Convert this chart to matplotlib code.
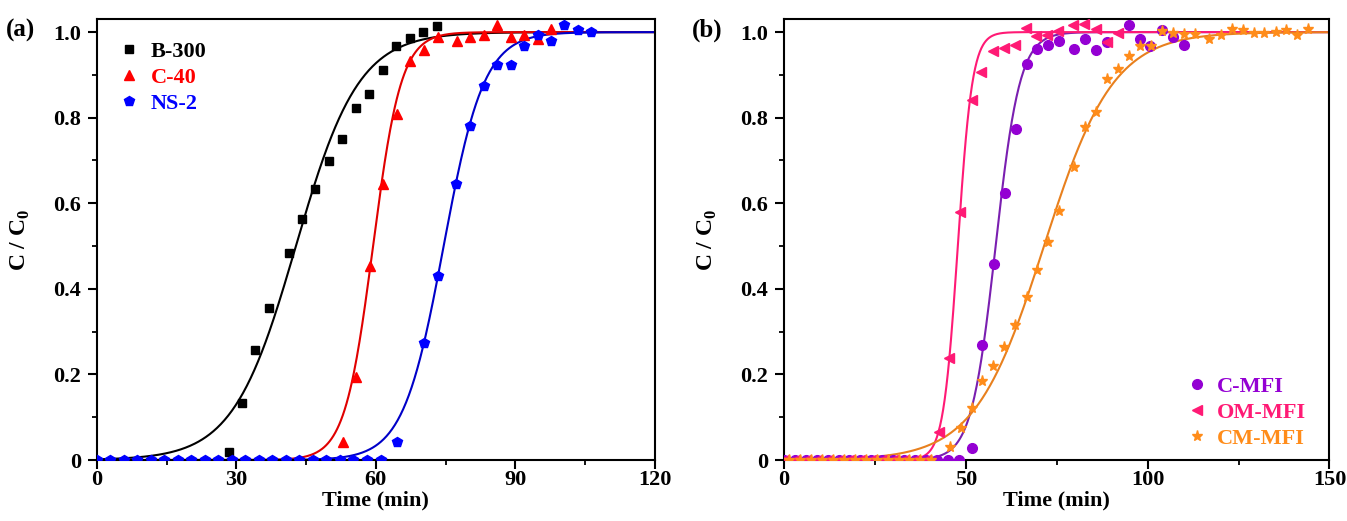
import numpy as np
import matplotlib
matplotlib.use('Agg')
from matplotlib import pyplot as plt
from matplotlib.ticker import MultipleLocator

plt.rcParams['font.family'] = ['Liberation Serif', 'DejaVu Serif']
plt.rcParams['font.weight'] = 'bold'
plt.rcParams['mathtext.fontset'] = 'custom'
plt.rcParams['mathtext.bf'] = 'Liberation Serif:bold'
plt.rcParams['mathtext.rm'] = 'Liberation Serif:bold'

# ---- panel (a) data ----
b300_t = [28.4, 31.2, 34.0, 37.0, 41.3, 44.1, 46.9, 49.9, 52.7, 55.7, 58.5,
          61.5, 64.3, 67.3, 70.1, 73.1]
b300_c = [0.019, 0.133, 0.257, 0.355, 0.484, 0.563, 0.633, 0.699, 0.750,
          0.822, 0.855, 0.911, 0.967, 0.986, 1.000, 1.014]
c40_t = [53.0, 55.7, 58.7, 61.6, 64.6, 67.4, 70.3, 73.3, 77.5, 80.3, 83.2,
         86.1, 89.0, 91.8, 94.9, 97.8]
c40_c = [0.041, 0.195, 0.453, 0.644, 0.808, 0.932, 0.958, 0.989, 0.980,
         0.989, 0.994, 1.016, 0.989, 0.994, 0.983, 1.007]
ns2_t = [0, 2.9, 5.8, 8.7, 11.6, 14.5, 17.4, 20.3, 23.2, 26.1, 29.0, 31.9,
         34.8, 37.7, 40.6, 43.5, 46.4, 49.3, 52.2, 55.1, 58.0, 61.2,
         64.6, 70.3, 73.3, 77.3, 80.2, 83.2, 86.1, 89.0, 91.8, 94.9, 97.8,
         100.6, 103.5, 106.4]
ns2_c = [0] * 22 + [0.042, 0.273, 0.431, 0.644, 0.780, 0.875, 0.923, 0.923,
                    0.967, 0.993, 0.979, 1.017, 1.006, 1.000]

# Yoon-Nelson fit parameters (tau, k)
fit_a = {'B-300': (42.8, 0.148), 'C-40': (59.4, 0.33), 'NS-2': (74.6, 0.23)}

# ---- panel (b) data ----
cmfi_t = [0, 3, 6, 9, 12, 15, 18, 21, 24, 27, 30, 33, 36, 39, 42, 45.1, 48.1,
          51.6, 54.5, 57.7, 60.7, 63.7, 66.7, 69.6, 72.6, 75.6, 79.7, 82.9,
          85.9, 88.9, 94.9, 97.8, 100.7, 103.9, 106.9, 109.9]
cmfi_c = [0] * 17 + [0.029, 0.269, 0.458, 0.625, 0.773, 0.925, 0.960, 0.971,
                     0.980, 0.961, 0.984, 0.958, 0.976, 1.017, 0.984, 0.967,
                     1.005, 0.989, 0.971]
ommfi_t = [0, 3, 6, 9, 12, 15, 18, 21, 24, 27, 30, 33, 36, 39, 42.7, 45.4,
           48.5, 51.6, 54.3, 57.5, 60.4, 63.4, 66.6, 69.4, 72.4, 75.4, 79.5,
           82.5, 85.7, 88.7, 91.9]
ommfi_c = [0] * 14 + [0.066, 0.238, 0.579, 0.841, 0.907, 0.957, 0.963, 0.971,
                      1.009, 0.991, 0.993, 1.003, 1.016, 1.018, 1.007, 0.976,
                      0.999]
cmmfi_t = [1.5, 4.5, 7.5, 10.5, 13.5, 16.5, 19.5, 22.5, 25.5, 28.5, 31.5,
           34.5, 37.5, 40.5, 45.6, 48.7, 51.6, 54.5, 57.5, 60.5, 63.6, 66.7,
           69.6, 72.6, 75.6, 79.7, 82.9, 85.9, 88.9, 91.9, 94.9, 97.8, 101.0,
           103.9, 106.9, 109.9, 113.1, 117.0, 120.2, 123.2, 126.1, 129.2,
           132.1, 135.2, 138.1, 141.1, 144.0]
cmmfi_c = [0] * 14 + [0.031, 0.074, 0.122, 0.185, 0.220, 0.265, 0.315, 0.380,
                      0.444, 0.509, 0.582, 0.685, 0.779, 0.814, 0.890, 0.914,
                      0.945, 0.968, 0.968, 1.003, 0.997, 0.995, 0.995, 0.985,
                      0.993, 1.007, 1.006, 0.998, 0.998, 1.000, 1.005, 0.993,
                      1.007]

fit_b = {'C-MFI': (58.2, 0.30), 'OM-MFI': (47.8, 0.50), 'CM-MFI': (71.5, 0.105)}


def yoon_nelson(t, tau, k):
    return 1.0 / (1.0 + np.exp(k * (tau - t)))


def style_axes(ax, xmax, xmajor):
    ax.set_xlim(0, xmax)
    ax.set_ylim(0, 1.03)
    ax.xaxis.set_major_locator(MultipleLocator(xmajor))
    ax.xaxis.set_minor_locator(MultipleLocator(xmajor / 2))
    ax.yaxis.set_minor_locator(MultipleLocator(0.1))
    ax.set_yticks([0, 0.2, 0.4, 0.6, 0.8, 1.0])
    ax.set_yticklabels(['0', '0.2', '0.4', '0.6', '0.8', '1.0'])
    ax.tick_params(which='major', direction='out', length=6.5, width=1.5,
                   labelsize=16, top=False, right=False)
    ax.tick_params(axis='y', which='major', pad=5)
    ax.tick_params(axis='x', which='major', pad=1)
    ax.tick_params(which='minor', direction='out', length=3.5, width=1.3,
                   top=False, right=False)
    for s in ax.spines.values():
        s.set_linewidth(1.5)
    ax.set_xlabel('Time (min)', fontsize=16, fontweight='bold', labelpad=0)
    ax.set_ylabel(r'C / C$_\mathbf{0}$', fontsize=17, fontweight='bold',
                  labelpad=15)


fig = plt.figure(figsize=(13.47, 5.21), dpi=100)
ax1 = fig.add_axes([0.072, 0.117, 0.414, 0.846])
ax2 = fig.add_axes([0.582, 0.117, 0.405, 0.846])

# panel (a)
ta = np.linspace(0, 120, 600)
series_a = [('B-300', b300_t, b300_c, 's', 'black', 'black', 6),
            ('C-40', c40_t, c40_c, '^', 'red', '#e00000', 7),
            ('NS-2', ns2_t, ns2_c, 'p', 'blue', '#0000c8', 7.5)]
for name, t, c, m, col, lcol, ms in series_a:
    tau, k = fit_a[name]
    ax1.plot(ta, yoon_nelson(ta, tau, k), color=lcol, lw=1.5, zorder=2)
    ax1.plot(t, c, m, color=col, ms=ms, ls='none', label=name, zorder=3)
style_axes(ax1, 120, 30)
leg = ax1.legend(loc='upper left', frameon=False, fontsize=16,
                 handletextpad=0.4, borderaxespad=0.3, labelspacing=0.25,
                 handlelength=1.2, bbox_to_anchor=(0.005, 0.985))
for txt, s in zip(leg.get_texts(), series_a):
    txt.set_color(s[4])

# panel (b)
tb = np.linspace(0, 150, 700)
series_b = [('C-MFI', cmfi_t, cmfi_c, 'o', '#9400d3', '#7a1fb0', 7),
            ('OM-MFI', ommfi_t, ommfi_c, '<', '#ff1a75', '#ff1a75', 7.5),
            ('CM-MFI', cmmfi_t, cmmfi_c, '*', '#ff8c1a', '#e8801e', 8)]
for name, t, c, m, col, lcol, ms in series_b:
    tau, k = fit_b[name]
    ax2.plot(tb, yoon_nelson(tb, tau, k), color=lcol, lw=1.5, zorder=2)
for name, t, c, m, col, lcol, ms in series_b:
    ax2.plot(t, c, m, color=col, ms=ms, ls='none', label=name, zorder=3)
style_axes(ax2, 150, 50)
leg2 = ax2.legend(loc='lower right', frameon=False, fontsize=16,
                  handletextpad=0.3, borderaxespad=0.3, labelspacing=0.25,
                  handlelength=1.2, bbox_to_anchor=(0.985, -0.01))
for txt, s in zip(leg2.get_texts(), series_b):
    txt.set_color(s[4])

fig.text(0.004, 0.93, '(a)', fontsize=18, fontweight='bold')
fig.text(0.514, 0.93, '(b)', fontsize=18, fontweight='bold')

fig.savefig('out.png', dpi=100)
